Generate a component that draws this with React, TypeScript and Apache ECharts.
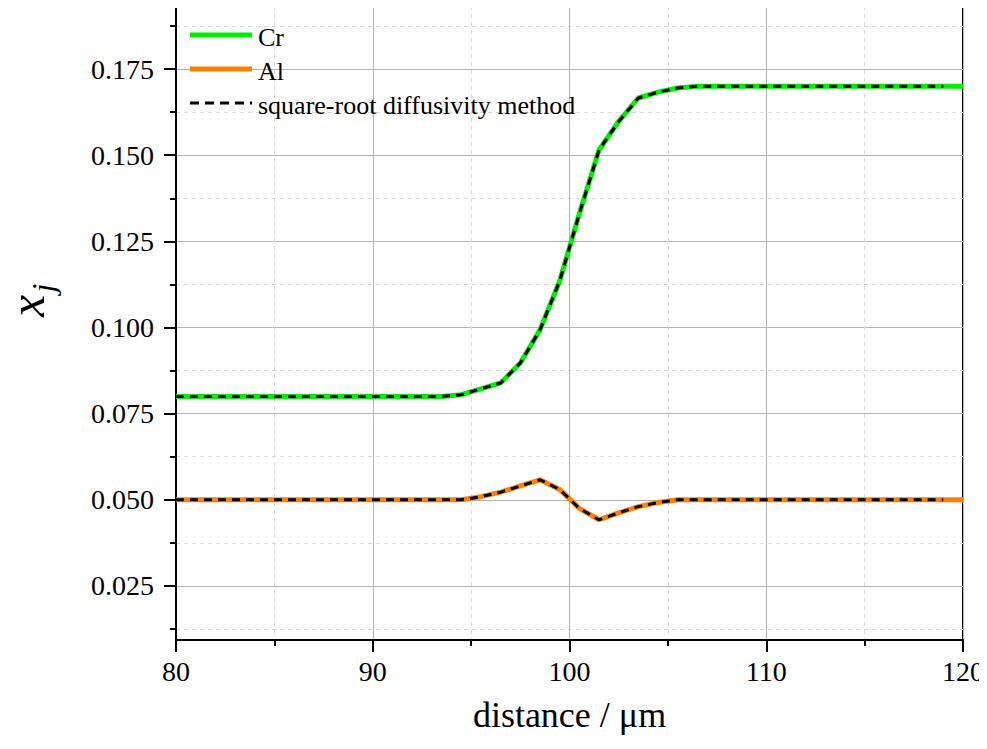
import React, { useEffect, useRef } from "react";
import * as echarts from "echarts";

const crData: [number, number][] = [
  [80, 0.08], [93.5, 0.08], [94.5, 0.0805], [95.5, 0.0822], [96.5, 0.0839],
  [97.5, 0.0897], [98.5, 0.0993], [99.5, 0.1135], [100.5, 0.133], [101.5, 0.1515],
  [102.5, 0.1598], [103.5, 0.1666], [104.5, 0.1683], [105.5, 0.1695], [106.5, 0.17],
  [120, 0.17],
];
const alData: [number, number][] = [
  [80, 0.05], [94.5, 0.05], [95.5, 0.0509], [96.5, 0.0522], [97.5, 0.054],
  [98.5, 0.0558], [99.5, 0.053], [100.5, 0.0475], [101.5, 0.0442], [102.5, 0.0462],
  [103.5, 0.048], [104.5, 0.0492], [105.5, 0.05], [120, 0.05],
];
const sqrtCrData: [number, number][] = [
  [80, 0.08], [93.5, 0.08], [94.5, 0.0805], [95.5, 0.0822], [96.5, 0.0839],
  [97.5, 0.0897], [98.5, 0.0993], [99.5, 0.1135], [100.5, 0.133], [101.5, 0.1515],
  [102.5, 0.1598], [103.5, 0.1666], [104.5, 0.1683], [105.5, 0.1695], [106.5, 0.17],
  [119, 0.17],
];
const sqrtAlData: [number, number][] = [
  [80, 0.05], [94.5, 0.05], [95.5, 0.0509], [96.5, 0.0522], [97.5, 0.054],
  [98.5, 0.0558], [99.5, 0.053], [100.5, 0.0475], [101.5, 0.0442], [102.5, 0.0462],
  [103.5, 0.048], [104.5, 0.0492], [105.5, 0.05], [119, 0.05],
];
const yMajorTicks = [0.025, 0.05, 0.075, 0.1, 0.125, 0.15, 0.175];
const yMinorTicks = [0.0125, 0.0375, 0.0625, 0.0875, 0.1125, 0.1375, 0.1625, 0.1875];
const seriesNames = ["Cr", "Al", "square-root diffusivity method"];
const seriesColors = ["#00ee00", "#ff8000", "#000000"];
const xAxisTitle = "distance / μm";

const FONT = "'Liberation Serif', 'Times New Roman', serif";

export default function App() {
  const ref = useRef<HTMLDivElement>(null);
  useEffect(() => {
    if (!ref.current) return;
    const chart = echarts.init(ref.current, null, { renderer: "svg" });
    const axisLineStyle = { color: "#000", width: 2 };
    const legendGraphics: any[] = [];
    seriesNames.forEach((name, i) => {
      const y = 35 + i * 34;
      legendGraphics.push({
        type: "line",
        shape: { x1: 190, y1: y, x2: 252, y2: y },
        style: {
          stroke: seriesColors[i],
          lineWidth: i === 2 ? 3 : 5,
          lineDash: i === 2 ? [9, 6] : null,
        },
        z: 10,
      });
      legendGraphics.push({
        type: "text",
        x: 258, y: y + 2,
        style: {
          text: name, fontFamily: FONT, fontSize: 26, fill: "#000",
          textAlign: "left", textVerticalAlign: "middle",
        },
        z: 10,
      });
    });
    chart.setOption({
      animation: false,
      backgroundColor: "#fff",
      textStyle: { fontFamily: FONT, color: "#000" },
      grid: {
        left: 176, right: 24, top: 6, bottom: 109,
        show: true, borderColor: "#000", borderWidth: 2, backgroundColor: "transparent",
      },
      xAxis: {
        type: "value",
        min: 80, max: 120, interval: 10,
        axisLine: { lineStyle: axisLineStyle },
        axisTick: { length: 12, lineStyle: axisLineStyle },
        minorTick: { show: true, splitNumber: 2, length: 6, lineStyle: axisLineStyle },
        splitLine: { show: true, lineStyle: { color: "#b4b4b4", width: 1 } },
        minorSplitLine: { show: true, lineStyle: { color: "#d9d9d9", width: 1, type: [4, 4] } },
        axisLabel: { fontFamily: FONT, fontSize: 28, color: "#000", margin: 17 },
        name: xAxisTitle,
        nameLocation: "middle",
        nameGap: 57,
        nameTextStyle: { fontFamily: FONT, fontSize: 36, color: "#000" },
      },
      yAxis: [
        {
          type: "value",
          min: 0.0093, max: 0.1933,
          axisLine: { show: true, lineStyle: axisLineStyle },
          axisTick: { show: true, length: 12, lineStyle: axisLineStyle, customValues: yMajorTicks },
          axisLabel: {
            fontFamily: FONT, fontSize: 28, color: "#000", margin: 22,
            customValues: yMajorTicks,
            formatter: (v: number) => v.toFixed(3),
          },
          splitLine: { show: true, lineStyle: { color: "#b4b4b4", width: 1 } },
        },
        {
          type: "value",
          position: "left",
          min: 0.0093, max: 0.1933,
          axisLine: { show: false },
          axisTick: { show: true, length: 6, lineStyle: axisLineStyle, customValues: yMinorTicks },
          axisLabel: { show: false, customValues: yMinorTicks },
          splitLine: { show: true, lineStyle: { color: "#d9d9d9", width: 1, type: [4, 4] } },
        },
      ],
      graphic: [
        {
          type: "text", x: 27, y: 306, rotation: Math.PI / 2,
          style: { text: "x", fontFamily: FONT, fontStyle: "italic", fontSize: 50, fill: "#000", textAlign: "center", textVerticalAlign: "middle" },
        },
        {
          type: "text", x: 43, y: 288, rotation: Math.PI / 2,
          style: { text: "j", fontFamily: FONT, fontStyle: "italic", fontSize: 32, fill: "#000", textAlign: "center", textVerticalAlign: "middle" },
        },
        ...legendGraphics,
      ],
      series: [
        {
          name: "Cr", type: "line", data: crData, yAxisIndex: 0,
          showSymbol: false, symbol: "none",
          lineStyle: { color: seriesColors[0], width: 5 }, itemStyle: { color: seriesColors[0] },
        },
        {
          name: "Al", type: "line", data: alData, yAxisIndex: 0,
          showSymbol: false, symbol: "none",
          lineStyle: { color: seriesColors[1], width: 5 }, itemStyle: { color: seriesColors[1] },
        },
        {
          name: "square-root diffusivity method", type: "line", data: sqrtCrData, yAxisIndex: 0,
          showSymbol: false, symbol: "none",
          lineStyle: { color: "#000", width: 3, type: [8, 6] }, itemStyle: { color: "#000" },
        },
        {
          name: "square-root diffusivity method", type: "line", data: sqrtAlData, yAxisIndex: 0,
          showSymbol: false, symbol: "none",
          lineStyle: { color: "#000", width: 3, type: [8, 6] }, itemStyle: { color: "#000" },
        },
      ],
    });
    return () => chart.dispose();
  }, []);
  return <div ref={ref} style={{ width: 987, height: 749, margin: -8 }} />;
}
